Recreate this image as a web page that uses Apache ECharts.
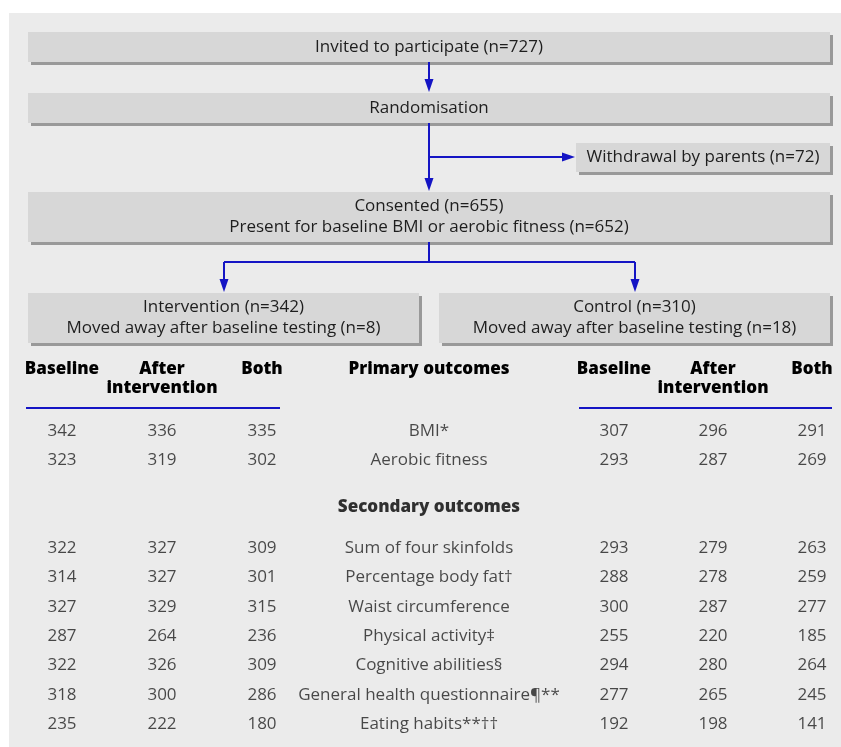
<!DOCTYPE html>
<html><head><meta charset="utf-8">
<script src="https://cdn.jsdelivr.net/npm/echarts@6/dist/echarts.min.js"></script>
<style>html,body{margin:0;padding:0;background:#fff}#c{width:841px;height:747px}</style>
</head><body><div id="c"></div>
<script>
// ---- flowchart texts ----
const boxInvited = ['Invited to participate (n=727)'];
const boxRandom = ['Randomisation'];
const boxWithdrawal = ['Withdrawal by parents (n=72)'];
const boxConsented = ['Consented (n=655)', 'Present for baseline BMI or aerobic fitness (n=652)'];
const boxIntervention = ['Intervention (n=342)', 'Moved away after baseline testing (n=8)'];
const boxControl = ['Control (n=310)', 'Moved away after baseline testing (n=18)'];

// ---- table ----
const columnHeaders = ['Baseline', 'After\nintervention', 'Both'];
const primaryHeading = 'Primary outcomes';
const secondaryHeading = 'Secondary outcomes';
const primaryOutcomes = ['BMI*', 'Aerobic fitness'];
const secondaryOutcomes = ['Sum of four skinfolds', 'Percentage body fat\u2020', 'Waist circumference',
  'Physical activity\u2021', 'Cognitive abilities\u00a7', 'General health questionnaire\u00b6**', 'Eating habits**\u2020\u2020'];
const interventionBaseline = [342, 323, 322, 314, 327, 287, 322, 318, 235];
const interventionAfter    = [336, 319, 327, 327, 329, 264, 326, 300, 222];
const interventionBoth     = [335, 302, 309, 301, 315, 236, 309, 286, 180];
const controlBaseline      = [307, 293, 293, 288, 300, 255, 294, 277, 192];
const controlAfter         = [296, 287, 279, 278, 287, 220, 280, 265, 198];
const controlBoth          = [291, 269, 263, 259, 277, 185, 264, 245, 141];

const FONT = 'Open Sans';
const FS = 17;
const TXT = '#1e1e1e';
const BLUE = '#1414c4';
const BOX = '#d7d7d7';
const SHADOW = '#999999';

const chart = echarts.init(document.getElementById('c'), null, {renderer: 'canvas'});

// row positions: primary rows, then a gap for the secondary heading
const nPrim = primaryOutcomes.length;
function rowOf(i) { return i < nPrim ? i : i + 2; }
const nRows = primaryOutcomes.length + secondaryOutcomes.length + 2;

function tableSeries(gridIdx, cols) {
  const data = [];
  cols.forEach((arr, c) => arr.forEach((v, i) => data.push([c, rowOf(i), String(v)])));
  return {
    type: 'scatter', xAxisIndex: gridIdx, yAxisIndex: gridIdx, silent: true,
    symbolSize: 1, itemStyle: {color: 'rgba(0,0,0,0)'},
    label: {show: true, position: 'inside', color: TXT, fontFamily: FONT, fontSize: FS,
      formatter: p => p.value[2]},
    data: data
  };
}
const labelData = primaryOutcomes.concat(secondaryOutcomes).map((t, i) => [0, rowOf(i), t]);
labelData.push([0, nPrim + 0.6, secondaryHeading, 1]);

// ---- graphic flowchart ----
const g = [];
g.push({type: 'rect', z: -10, shape: {x: 9, y: 13, width: 832, height: 734}, style: {fill: '#ebebeb'}});
function box(x, y, w, h, lines) {
  g.push({type: 'rect', shape: {x: x + 3, y: y + 3, width: w, height: h}, style: {fill: SHADOW}});
  g.push({type: 'rect', shape: {x: x, y: y, width: w, height: h}, style: {fill: BOX}});
  g.push({type: 'text', x: x + w / 2, y: y + h / 2, style: {
    text: lines.join('\n'), fill: TXT, font: FS + 'px "' + FONT + '"', align: 'center', verticalAlign: 'middle', lineHeight: 21}});
}
function line(pts) {
  g.push({type: 'polyline', shape: {points: pts}, style: {stroke: BLUE, lineWidth: 2, fill: null}});
}
function arrowDown(x, tipY) {
  g.push({type: 'polygon', shape: {points: [[x - 4.5, tipY - 13], [x + 4.5, tipY - 13], [x, tipY]]}, style: {fill: BLUE}});
}
function arrowRight(tipX, y) {
  g.push({type: 'polygon', shape: {points: [[tipX - 13, y - 4.5], [tipX - 13, y + 4.5], [tipX, y]]}, style: {fill: BLUE}});
}
box(28, 32, 802, 30, boxInvited);
box(28, 93, 802, 30, boxRandom);
box(576, 143, 254, 29, boxWithdrawal);
box(28, 192, 802, 50, boxConsented);
box(28, 293, 391, 50, boxIntervention);
box(439, 293, 391, 50, boxControl);
line([[429, 62], [429, 82]]); arrowDown(429, 92);
line([[429, 123], [429, 181]]); arrowDown(429, 191);
line([[429, 157], [565, 157]]); arrowRight(575, 157);
line([[429, 242], [429, 262]]);
line([[224, 262], [635, 262]]);
line([[224, 262], [224, 281]]); arrowDown(224, 292);
line([[635, 262], [635, 281]]); arrowDown(635, 292);
line([[26, 408], [280, 408]]);
line([[579, 408], [832, 408]]);

const gridTop = 416.35, gridH = 322.3;
const hdrLabel = {show: true, interval: 0, color: '#000', fontFamily: FONT, fontSize: FS, fontWeight: 800,
  verticalAlign: 'top', lineHeight: 19, margin: 57};
function xAx(idx, cats, gap) {
  return {type: 'category', gridIndex: idx, position: 'top', data: cats, boundaryGap: gap,
    axisLine: {show: false}, axisTick: {show: false}, splitLine: {show: false}, axisLabel: hdrLabel};
}
function yAx(idx) {
  return {type: 'value', gridIndex: idx, inverse: true, min: -0.5, max: nRows - 0.5, show: false};
}

chart.setOption({
  animation: false,
  backgroundColor: '#ffffff',
  graphic: {elements: g},
  grid: [
    {left: 62, width: 200, top: gridTop, height: gridH},
    {left: 329, width: 200, top: gridTop, height: gridH},
    {left: 614, width: 198, top: gridTop, height: gridH}
  ],
  xAxis: [xAx(0, columnHeaders, false), xAx(1, [primaryHeading], true), xAx(2, columnHeaders, false)],
  yAxis: [yAx(0), yAx(1), yAx(2)],
  series: [
    tableSeries(0, [interventionBaseline, interventionAfter, interventionBoth]),
    {
      type: 'scatter', xAxisIndex: 1, yAxisIndex: 1, silent: true,
      symbolSize: 1, itemStyle: {color: 'rgba(0,0,0,0)'},
      label: {show: true, position: 'inside', color: TXT, fontFamily: FONT, fontSize: FS,
        formatter: p => p.value[3] ? '{b|' + p.value[2] + '}' : p.value[2],
        rich: {b: {fontFamily: FONT, fontSize: FS, fontWeight: 800, color: '#000'}}},
      data: labelData
    },
    tableSeries(2, [controlBaseline, controlAfter, controlBoth])
  ]
});
</script></body></html>
